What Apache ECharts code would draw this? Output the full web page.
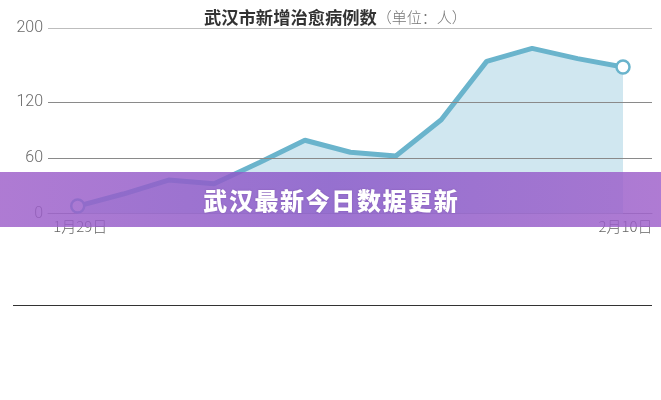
<!DOCTYPE html>
<html>
<head>
<meta charset="utf-8">
<script src="https://cdn.jsdelivr.net/npm/echarts@6/dist/echarts.min.js"></script>
<style>
  html, body { margin: 0; padding: 0; background: #fff; }
  #wrap { position: relative; width: 661px; height: 400px; overflow: hidden; }
  #chart { position: absolute; left: 0; top: 0; width: 661px; height: 400px; }
  #banner {
    position: absolute; left: 0; top: 172px; width: 661px; height: 55px;
    background: linear-gradient(90deg, rgba(158,96,202,0.83) 0%, rgba(138,88,200,0.83) 50%, rgba(158,96,202,0.83) 100%);
    color: #fff; text-align: center; line-height: 55px;
    font-family: "Noto Sans CJK SC", sans-serif; font-weight: 900; font-size: 24px;
    letter-spacing: 1.6px; text-indent: 1.6px;
    text-shadow: 0 0 2px rgba(80,40,120,0.35);
  }
  #rule { position: absolute; left: 13px; top: 304.5px; width: 639px; height: 1.5px; background: #333; }
</style>
</head>
<body>
<div id="wrap">
  <div id="chart"></div>
  <div id="banner">武汉最新今日数据更新</div>
  <div id="rule"></div>
</div>
<script>
// Data
const days = ['1月29日','1月30日','1月31日','2月1日','2月2日','2月3日','2月4日','2月5日','2月6日','2月7日','2月8日','2月9日','2月10日'];
const cured = [8, 21, 36, 32, 55, 79, 66, 62, 101, 164, 178, 167, 158];
const yTicks = [0, 60, 120, 200];
const xLabelIdx = [0, 12];
const titleMain = '武汉市新增治愈病例数';
const titleUnit = '（单位：人）';

const last = cured.length - 1;
const seriesData = cured.map((v, i) => ({
  value: [i, v],
  symbol: (i === 0 || i === last) ? 'circle' : 'none'
}));

const chart = echarts.init(document.getElementById('chart'), null, { renderer: 'canvas' });
chart.setOption({
  animation: false,
  backgroundColor: '#fff',
  title: {
    text: '{a|' + titleMain + '}{b|' + titleUnit + '}',
    left: 199, top: 4,
    textStyle: {
      rich: {
        a: { fontFamily: 'Noto Sans CJK SC', fontWeight: 700, fontSize: 17.3, color: '#333' },
        b: { fontFamily: 'Noto Sans CJK SC', fontWeight: 300, fontSize: 15, color: '#777' }
      }
    }
  },
  grid: { left: 48, right: 9, top: 28, bottom: 186.5, containLabel: false },
  xAxis: {
    type: 'value',
    min: -0.654, max: 12.638,
    axisLine: { show: true, lineStyle: { color: '#999', width: 1 } },
    axisTick: { show: false },
    splitLine: { show: false },
    axisLabel: {
      customValues: xLabelIdx,
      formatter: v => days[Math.round(v)] || '',
      color: '#666', fontSize: 15, margin: 5,
      padding: [0, 0, 0, 5],
      fontFamily: 'Noto Sans CJK SC', fontWeight: 300
    }
  },
  yAxis: {
    type: 'value',
    min: 0, max: 200,
    axisLine: { show: false },
    axisTick: { show: false, customValues: yTicks },
    splitLine: { show: false },
    axisLabel: {
      customValues: yTicks,
      color: '#6a6a6a', fontSize: 16, margin: 5,
      fontFamily: 'Roboto', fontWeight: 300
    }
  },
  series: [{
    type: 'line',
    data: seriesData,
    symbolSize: 13,
    itemStyle: { color: '#fff', borderColor: '#6ab4cc', borderWidth: 2.5 },
    lineStyle: { color: '#6ab4cc', width: 5 },
    areaStyle: { color: '#d0e7f0', opacity: 1 },
    z: 3,
    markLine: {
      silent: true,
      symbol: 'none',
      label: { show: false },
      data: [
        { yAxis: 60, lineStyle: { color: '#8a8a8a', width: 1, type: 'solid' } },
        { yAxis: 120, lineStyle: { color: '#8a8a8a', width: 1, type: 'solid' } },
        { yAxis: 200, lineStyle: { color: '#bdbdbd', width: 1, type: 'solid' } }
      ]
    }
  }]
});
</script>
</body>
</html>
